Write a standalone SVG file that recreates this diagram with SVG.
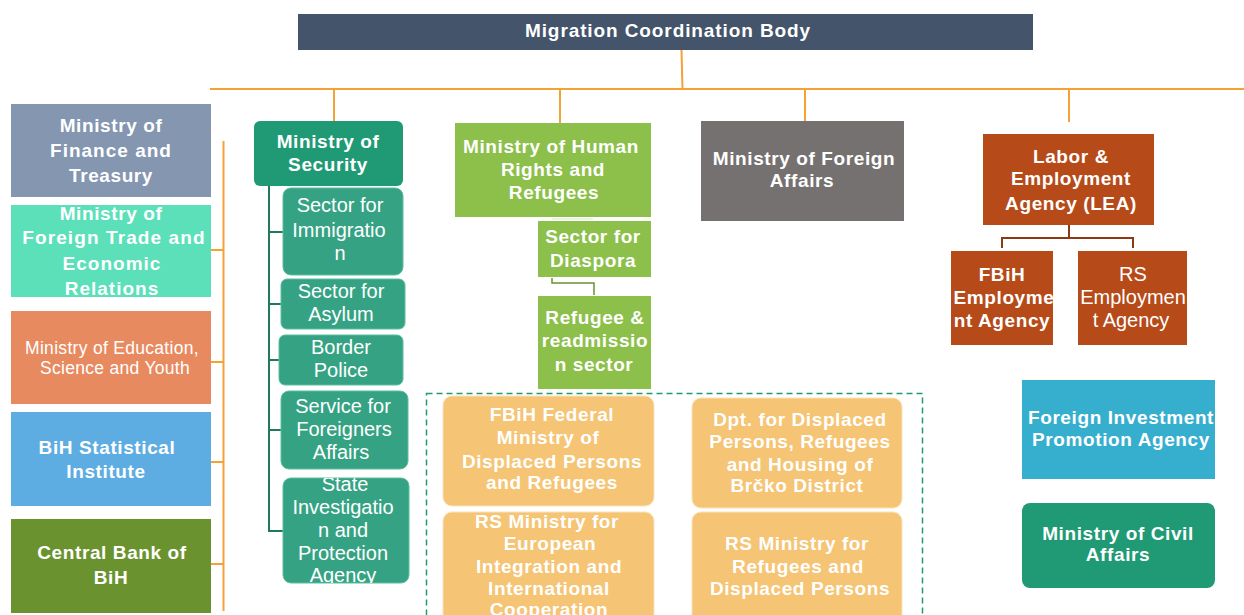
<svg xmlns="http://www.w3.org/2000/svg" width="1244" height="615" viewBox="0 0 1244 615">
<style>
text{font-family:"Liberation Sans",Arial,sans-serif;fill:#fff;text-anchor:middle;dominant-baseline:central}
.b{font-weight:bold;font-size:19px;letter-spacing:0.6px}
.r{font-size:20px}
.o{stroke:#F4A135;stroke-width:2;fill:none}
.g{stroke:#1F7A5C;stroke-width:2;fill:none}
.sub{fill:#35A383;stroke:#5DBE9F;stroke-width:1}
.or{fill:#F5C474;stroke:#FBE3BC;stroke-width:1}
</style>
<defs>
<clipPath id="cSIPA"><rect x="283" y="478" width="126" height="105" rx="8"/></clipPath>
<clipPath id="cFE"><rect x="951" y="251" width="102" height="94"/></clipPath>
<clipPath id="cRE"><rect x="1078" y="251" width="109" height="94"/></clipPath>
<clipPath id="cFI"><rect x="1022" y="380" width="193" height="99"/></clipPath>
</defs>
<g id="connectors">
<path class="o" d="M681.5 50 L682.5 89 M210 89 H1244 M334 89 V121 M560 89 V123 M805 89 V121 M1069 89 V122"/>
<path class="o" d="M223.5 141 V611 M211 250 H223.5 M211 362 H223.5 M211 462 H223.5 M211 564 H223.5"/>
<path class="g" d="M269 186 V531 H283 M269 232 H283 M269 304 H281 M269 360 H279 M269 430 H281"/>
<path d="M552 219 H593" stroke="#E6EFDA" stroke-width="1.5" fill="none"/>
<path d="M552 278 V283 H594 V295" stroke="#6A9330" stroke-width="1.5" fill="none"/>
<path d="M1069 225 V238 M1002 248 V238 H1133 V248" stroke="#8B3A14" stroke-width="2" fill="none"/>
<rect x="426.5" y="393.5" width="496" height="240" fill="none" stroke="#1F9A74" stroke-width="1.5" stroke-dasharray="6,4"/>
</g>
<g id="mcb"><rect x="298" y="14" width="735" height="36" fill="#44546A"/><text class="b" x="668" y="30" style="letter-spacing:0.9px">Migration Coordination Body</text></g>
<g id="finance"><rect x="11" y="104" width="200" height="93" fill="#8496B0"/><text class="b" x="111" y="125">Ministry of</text><text class="b" x="111" y="150" style="letter-spacing:1px">Finance and</text><text class="b" x="111" y="175">Treasury</text></g>
<g id="trade"><rect x="11" y="205" width="200" height="92" fill="#5BE0BA"/><text class="b" x="111" y="213">Ministry of</text><text class="b" x="114" y="237" style="letter-spacing:1.1px">Foreign Trade and</text><text class="b" x="112" y="263" style="letter-spacing:1px">Economic</text><text class="b" x="112" y="288" style="letter-spacing:1px">Relations</text></g>
<g id="education"><rect x="11" y="311" width="200" height="93" fill="#E88A60"/><text x="112" y="348" style="font-size:17.5px;letter-spacing:0.3px">Ministry of Education,</text><text x="115" y="368" style="font-size:17.5px;letter-spacing:0.3px">Science and Youth</text></g>
<g id="statistical"><rect x="11" y="412" width="200" height="94" fill="#5DACE2"/><text class="b" x="107" y="447">BiH Statistical</text><text class="b" x="106" y="471">Institute</text></g>
<g id="centralbank"><rect x="11" y="519" width="200" height="94" fill="#6A9330"/><text class="b" x="112" y="552">Central Bank of</text><text class="b" x="111" y="577">BiH</text></g>
<g id="security"><rect x="254" y="121" width="149" height="65" rx="6" fill="#1F9A74"/><text class="b" x="328" y="141">Ministry of</text><text class="b" x="328" y="164">Security</text></g>
<g id="immigration"><rect class="sub" x="283" y="188" width="120" height="87" rx="8"/><text class="r" x="340" y="205">Sector for</text><text class="r" x="339" y="230">Immigratio</text><text class="r" x="340" y="253">n</text></g>
<g id="asylum"><rect class="sub" x="281" y="279" width="124" height="50" rx="6"/><text class="r" x="341" y="291">Sector for</text><text class="r" x="341" y="314">Asylum</text></g>
<g id="border"><rect class="sub" x="279" y="335" width="124" height="50" rx="6"/><text class="r" x="341" y="347">Border</text><text class="r" x="341" y="370">Police</text></g>
<g id="foreigners"><rect class="sub" x="281" y="391" width="127" height="78" rx="8"/><text class="r" x="343" y="406">Service for</text><text class="r" x="344" y="429">Foreigners</text><text class="r" x="341" y="452">Affairs</text></g>
<g id="sipa"><rect class="sub" x="283" y="478" width="126" height="105" rx="8"/><g clip-path="url(#cSIPA)"><text class="r" x="345" y="484">State</text><text class="r" x="343" y="507">Investigatio</text><text class="r" x="343" y="530">n and</text><text class="r" x="343" y="553">Protection</text><text class="r" x="343" y="575">Agency</text></g></g>
<g id="humanrights"><rect x="455" y="123" width="196" height="94" fill="#8CC04A"/><text class="b" x="551" y="146">Ministry of Human</text><text class="b" x="553" y="169">Rights and</text><text class="b" x="554" y="192">Refugees</text></g>
<g id="diaspora"><rect x="538" y="221" width="113" height="56" fill="#8CC04A"/><text class="b" x="593" y="236">Sector for</text><text class="b" x="593" y="260">Diaspora</text></g>
<g id="readmission"><rect x="538" y="296" width="113" height="93" fill="#8CC04A"/><text class="b" x="595" y="317">Refugee &amp;</text><text class="b" x="595" y="340">readmissio</text><text class="b" x="594" y="364">n sector</text></g>
<g id="fbihministry"><rect class="or" x="443" y="396" width="211" height="110" rx="9"/><text class="b" x="552" y="414">FBiH Federal</text><text class="b" x="548" y="437">Ministry of</text><text class="b" x="552" y="461">Displaced Persons</text><text class="b" x="552" y="482">and Refugees</text></g>
<g id="rseuropean"><rect class="or" x="443" y="512" width="211" height="130" rx="9"/><text class="b" x="547" y="521">RS Ministry for</text><text class="b" x="550" y="543">European</text><text class="b" x="549" y="566">Integration and</text><text class="b" x="549" y="588">International</text><text class="b" x="549" y="609">Cooperation</text></g>
<g id="brcko"><rect class="or" x="692" y="398" width="210" height="110" rx="9"/><text class="b" x="800" y="419">Dpt. for Displaced</text><text class="b" x="800" y="441">Persons, Refugees</text><text class="b" x="800" y="464">and Housing of</text><text class="b" x="797" y="485">Brčko District</text></g>
<g id="rsrefugees"><rect class="or" x="692" y="512" width="210" height="130" rx="9"/><text class="b" x="797" y="543">RS Ministry for</text><text class="b" x="798" y="566">Refugees and</text><text class="b" x="800" y="588">Displaced Persons</text></g>
<g id="foreignaffairs"><rect x="701" y="121" width="203" height="100" fill="#767171"/><text class="b" x="804" y="158">Ministry of Foreign</text><text class="b" x="802" y="180">Affairs</text></g>
<g id="lea"><rect x="983" y="134" width="171" height="91" fill="#B64A19"/><text class="b" x="1071" y="156">Labor &amp;</text><text class="b" x="1071" y="178">Employment</text><text class="b" x="1071" y="203">Agency (LEA)</text></g>
<g id="fbihemployment"><rect x="951" y="251" width="102" height="94" fill="#B64A19"/><g clip-path="url(#cFE)"><text class="b" x="1002" y="274">FBiH</text><text class="b" x="1004" y="297">Employme</text><text class="b" x="1002" y="320">nt Agency</text></g></g>
<g id="rsemployment"><rect x="1078" y="251" width="109" height="94" fill="#B64A19"/><g clip-path="url(#cRE)"><text class="r" x="1133" y="274">RS</text><text class="r" x="1133" y="297">Employmen</text><text class="r" x="1131" y="320">t Agency</text></g></g>
<g id="fipa"><rect x="1022" y="380" width="193" height="99" fill="#36AECE"/><g clip-path="url(#cFI)"><text class="b" x="1121" y="417">Foreign Investment</text><text class="b" x="1121" y="439">Promotion Agency</text></g></g>
<g id="civilaffairs"><rect x="1022" y="503" width="193" height="85" rx="8" fill="#1F9A74"/><text class="b" x="1118" y="533">Ministry of Civil</text><text class="b" x="1118" y="554">Affairs</text></g>
</svg>
